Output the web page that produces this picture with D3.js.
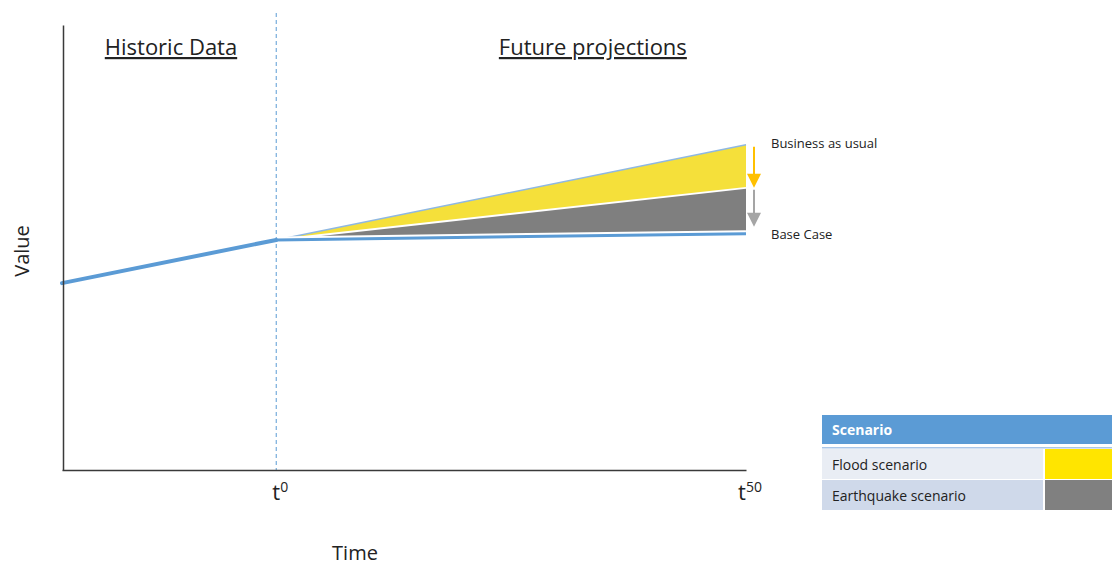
<!DOCTYPE html>
<html>
<head>
<meta charset="utf-8">
<script src="https://cdn.jsdelivr.net/npm/d3@7"></script>
<style>
  html, body { margin: 0; padding: 0; background: #fff; }
  svg { display: block; font-family: "Open Sans", "DejaVu Sans", sans-serif; }
</style>
</head>
<body>
<svg id="chart" width="1112" height="566"></svg>
<script>
// Time points (t = 0 is today, t = 50 the projection horizon)
const historicTimes = [-22.8, 0];
const historicValues = [42, 51.7];
const projectionTimes = [0, 50];
const baseCaseValues = [51.7, 53.1];
const earthquakeValues = [51.7, 63.4];
const businessAsUsualValues = [51.7, 73.1];

const tickTimes = [0, 50];
const tickSuperscripts = ["0", "50"];

const periodLabels = ["Historic Data", "Future projections"];
const periodCenters = [-11.2, 33.7];

const endLabels = ["Business as usual", "Base Case"];

const legendTitle = "Scenario";
const legendLabels = ["Flood scenario", "Earthquake scenario"];
const legendColors = ["#FFE500", "#808080"];
const legendRowFills = ["#E9EDF4", "#CFD9EA"];

const svg = d3.select("#chart");

const x = d3.scaleLinear().domain([-22.8, 50]).range([62, 746]);
const y = d3.scaleLinear().domain([0, 100]).range([470, 25]);

const blue = "#5B9BD5";

// Scenario bands between the projected lines
const proj = projectionTimes.map((t, i) => ({
  t, base: baseCaseValues[i], eq: earthquakeValues[i], bau: businessAsUsualValues[i]
}));

const area = d3.area().x(d => x(d.t));

svg.append("path")
  .datum(proj)
  .attr("d", area.y0(d => y(d.eq)).y1(d => y(d.bau)))
  .attr("fill", "#F5E03A");

svg.append("path")
  .datum(proj)
  .attr("d", area.y0(d => y(d.base)).y1(d => y(d.eq)))
  .attr("fill", "#7F7F7F");

const line = d3.line().x(d => x(d[0])).y(d => y(d[1]));

// white separator between the flood and earthquake bands
svg.append("path")
  .datum(projectionTimes.map((t, i) => [t, earthquakeValues[i]]))
  .attr("d", line)
  .attr("fill", "none")
  .attr("stroke", "#fff")
  .attr("stroke-width", 2);

// business-as-usual upper edge
svg.append("path")
  .datum(projectionTimes.map((t, i) => [t, businessAsUsualValues[i]]))
  .attr("d", line)
  .attr("fill", "none")
  .attr("stroke", "#8FB8E2")
  .attr("stroke-width", 1.5);

// base case line with a white halo
const baseData = projectionTimes.map((t, i) => [t, baseCaseValues[i]]);
svg.append("path")
  .datum(baseData)
  .attr("d", line)
  .attr("fill", "none")
  .attr("stroke", "#fff")
  .attr("stroke-width", 7);
svg.append("path")
  .datum(baseData)
  .attr("d", line)
  .attr("fill", "none")
  .attr("stroke", blue)
  .attr("stroke-width", 3);

// historic series
svg.append("path")
  .datum(historicTimes.map((t, i) => [t, historicValues[i]]))
  .attr("d", line)
  .attr("fill", "none")
  .attr("stroke", blue)
  .attr("stroke-width", 4)
  .attr("stroke-linecap", "round");

// present-day divider
svg.append("line")
  .attr("x1", x(0)).attr("x2", x(0))
  .attr("y1", 13).attr("y2", y(0))
  .attr("stroke", blue)
  .attr("stroke-width", 1)
  .attr("stroke-dasharray", "4,3");

// axes
const xAxis = d3.axisBottom(x).tickValues(tickTimes).tickSize(0).tickFormat("");
const gx = svg.append("g").attr("transform", `translate(0,${y(0)})`).call(xAxis);
gx.select(".domain").attr("stroke", "#3a3a3a").attr("stroke-width", 1.5);

const yAxis = d3.axisLeft(y).tickValues([]).tickSize(0);
const gy = svg.append("g").attr("transform", `translate(${x(-22.8) + 1},0)`).call(yAxis);
gy.select(".domain").attr("stroke", "#3a3a3a").attr("stroke-width", 1.5);

// tick labels t^0, t^50
tickTimes.forEach((t, i) => {
  const txt = svg.append("text")
    .attr("x", x(t) + 4)
    .attr("y", 500)
    .attr("text-anchor", "middle")
    .attr("font-size", 22)
    .attr("fill", "#222");
  txt.append("tspan").text("t");
  txt.append("tspan")
    .attr("font-size", 14)
    .attr("dy", -8)
    .text(tickSuperscripts[i]);
});

// axis titles
svg.append("text")
  .attr("x", 355).attr("y", 560)
  .attr("text-anchor", "middle")
  .attr("font-size", 20)
  .attr("fill", "#222")
  .text("Time");

svg.append("text")
  .attr("transform", "translate(29,251) rotate(-90)")
  .attr("text-anchor", "middle")
  .attr("font-size", 20)
  .attr("fill", "#222")
  .text("Value");

// period headings
periodLabels.forEach((label, i) => {
  svg.append("text")
    .attr("x", x(periodCenters[i]))
    .attr("y", 55)
    .attr("text-anchor", "middle")
    .attr("font-size", 22)
    .attr("fill", "#222")
    .attr("text-decoration", "underline")
    .text(label);
});

// end labels
const lastIdx = projectionTimes.length - 1;
svg.append("text")
  .attr("x", 771).attr("y", y(businessAsUsualValues[lastIdx]) + 3)
  .attr("font-size", 13).attr("fill", "#222")
  .text(endLabels[0]);
svg.append("text")
  .attr("x", 771).attr("y", y(baseCaseValues[lastIdx]) + 5)
  .attr("font-size", 13).attr("fill", "#222")
  .text(endLabels[1]);

// downward arrows showing the scenario impacts
function arrow(fromV, toV, color, gapEnd) {
  const ax = x(50) + 8;
  const y0 = y(fromV) + 2, y1 = y(toV) - gapEnd;
  svg.append("line")
    .attr("x1", ax).attr("x2", ax)
    .attr("y1", y0).attr("y2", y1 - 12)
    .attr("stroke", color).attr("stroke-width", 2);
  svg.append("path")
    .attr("d", `M${ax - 7},${y1 - 14}L${ax + 7},${y1 - 14}L${ax},${y1}Z`)
    .attr("fill", color);
}
arrow(businessAsUsualValues[lastIdx], earthquakeValues[lastIdx], "#FFC000", 0);
arrow(earthquakeValues[lastIdx], baseCaseValues[lastIdx], "#A5A5A5", 7);

// scenario legend table
const lg = svg.append("g").attr("transform", "translate(822,415)");
lg.append("rect").attr("x", 0).attr("y", 0).attr("width", 290).attr("height", 29).attr("fill", blue);
lg.append("text").attr("x", 10).attr("y", 20)
  .attr("font-size", 14).attr("font-weight", "bold").attr("fill", "#fff")
  .text(legendTitle);
lg.append("rect").attr("x", 0).attr("y", 32).attr("width", 290).attr("height", 1.5).attr("fill", "#A9C6E8");

legendLabels.forEach((label, i) => {
  const ry = 34 + i * 31;
  lg.append("rect").attr("x", 0).attr("y", ry).attr("width", 221).attr("height", 30)
    .attr("fill", legendRowFills[i]);
  lg.append("rect").attr("x", 223).attr("y", ry).attr("width", 67).attr("height", 30)
    .attr("fill", legendColors[i]);
  lg.append("text").attr("x", 10).attr("y", ry + 21)
    .attr("font-size", 14).attr("fill", "#222")
    .text(label);
});
</script>
</body>
</html>
